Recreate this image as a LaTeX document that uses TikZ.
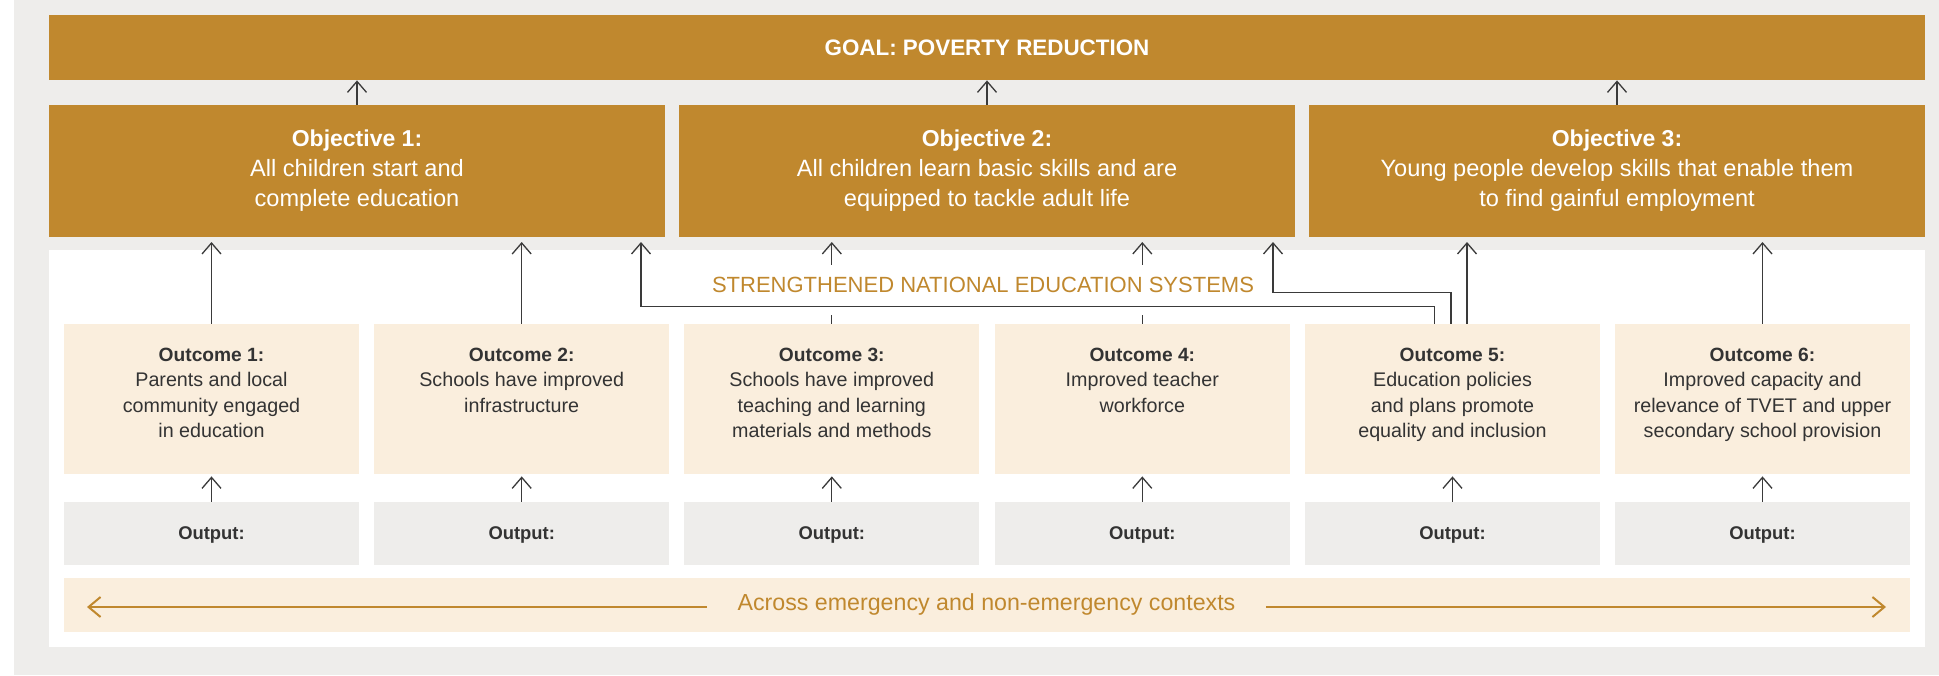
\documentclass[tikz,border=0pt]{standalone}
\usepackage{fontspec}
\setmainfont{Liberation Sans}
\usetikzlibrary{arrows.meta}
\definecolor{gold}{HTML}{C0882E}
\definecolor{bggray}{HTML}{EEEDEB}
\definecolor{outfill}{HTML}{FAEEDD}
\definecolor{darktext}{HTML}{333333}
\definecolor{linegray}{HTML}{3A3A3A}
\newcommand{\objhead}[1]{{\fontsize{11.5}{15}\selectfont\bfseries #1}}
\newcommand{\outhead}[1]{{\fontsize{9.6}{12.75}\selectfont\bfseries #1}}
\tikzset{
 goalbox/.style={fill=gold, text=white, font=\fontsize{11.2}{13}\selectfont\bfseries, minimum width=938pt, minimum height=32.5pt, inner sep=0pt, text depth=0pt},
 objbox/.style={fill=gold, minimum width=308pt, minimum height=66pt, inner sep=0pt},
 objtext/.style={anchor=north, yshift=-12.5pt, inner sep=0pt, text=white, align=center, font=\fontsize{11.8}{15}\selectfont},
 outcomebox/.style={fill=outfill, minimum width=147.5pt, minimum height=75pt, inner sep=0pt},
 outcometext/.style={anchor=north, yshift=-11.85pt, inner sep=0pt, text=darktext, align=center, font=\fontsize{9.85}{12.75}\selectfont},
 outputbox/.style={fill=bggray, minimum width=147.5pt, minimum height=31.5pt, inner sep=0pt, text depth=0pt, text=darktext, font=\fontsize{9.2}{11}\selectfont\bfseries},
 arr/.style={draw=linegray, line width=0.65pt, -{Straight Barb[length=5.5pt,width=9.5pt]}},
 goldarr/.style={draw=gold, line width=1pt, -{Straight Barb[length=6pt,width=10pt]}},
 systext/.style={text=gold, fill=white, anchor=base, inner xsep=3pt, inner ysep=0pt, text height=13.65pt, text depth=11.35pt, font=\fontsize{11}{13}\selectfont},
 acrosstextstyle/.style={text=gold, inner sep=0pt, anchor=base, font=\fontsize{11.6}{14}\selectfont},
}
\begin{document}
\begin{tikzpicture}[x=0.5pt,y=-0.5pt]
\useasboundingbox (0,0) rectangle (1939,675);
\fill[bggray] (14,0) rectangle (1939,675);
\fill[white] (49,250) rectangle (1925,647);

% goal and objectives
\node[goalbox] (goal) at (987,47.5) {GOAL: POVERTY REDUCTION};
\node[objbox, label={[objtext]north:{\objhead{Objective 1:}\\All children start and\\complete education}}] (obj1) at (357,171) {};
\node[objbox, label={[objtext]north:{\objhead{Objective 2:}\\All children learn basic skills and are\\equipped to tackle adult life}}] (obj2) at (987,171) {};
\node[objbox, label={[objtext]north:{\objhead{Objective 3:}\\Young people develop skills that enable them\\to find gainful employment}}] (obj3) at (1617,171) {};

% outcomes
\node[outcomebox, label={[outcometext]north:{\outhead{Outcome 1:}\\Parents and local\\community engaged\\in education}}] (out1) at (211.5,399) {};
\node[outcomebox, label={[outcometext]north:{\outhead{Outcome 2:}\\Schools have improved\\infrastructure}}] (out2) at (521.7,399) {};
\node[outcomebox, label={[outcometext]north:{\outhead{Outcome 3:}\\Schools have improved\\teaching and learning\\materials and methods}}] (out3) at (831.8,399) {};
\node[outcomebox, label={[outcometext]north:{\outhead{Outcome 4:}\\Improved teacher\\workforce}}] (out4) at (1142.3,399) {};
\node[outcomebox, label={[outcometext]north:{\outhead{Outcome 5:}\\Education policies\\and plans promote\\equality and inclusion}}] (out5) at (1452.5,399) {};
\node[outcomebox, label={[outcometext]north:{\outhead{Outcome 6:}\\Improved capacity and\\relevance of TVET and upper\\secondary school provision}}] (out6) at (1762.5,399) {};

% outputs
\node[outputbox] (op1) at (211.5,533.5) {Output:};
\node[outputbox] (op2) at (521.7,533.5) {Output:};
\node[outputbox] (op3) at (831.8,533.5) {Output:};
\node[outputbox] (op4) at (1142.3,533.5) {Output:};
\node[outputbox] (op5) at (1452.5,533.5) {Output:};
\node[outputbox] (op6) at (1762.5,533.5) {Output:};

% across contexts
\node[fill=outfill, minimum width=923pt, minimum height=27pt, inner sep=0pt] (across) at (987,605) {};
\node[acrosstextstyle] (acrosstext) at (986.5,610) {Across emergency and non-emergency contexts};
\coordinate (aL) at (87,607);
\coordinate (aR) at (1886,607);
\draw[goldarr] ([xshift=-15pt]acrosstext.west |- aL) -- (aL);
\draw[goldarr] ([xshift=15pt]acrosstext.east |- aR) -- (aR);

% objective -> goal
\draw[arr] (obj1.north) -- (obj1.north |- goal.south);
\draw[arr] (obj2.north) -- (obj2.north |- goal.south);
\draw[arr] (obj3.north) -- (obj3.north |- goal.south);

% output -> outcome
\foreach \i in {1,...,6}{
  \draw[arr, shorten >=1pt] (op\i.north) -- (out\i.south);
}

% outcome -> objective
\draw[arr, shorten >=2.3pt] (out1.north) -- (out1.north |- obj1.south);
\draw[arr, shorten >=2.3pt] (out2.north) -- (out2.north |- obj1.south);
\draw[arr, shorten >=2.3pt] (out3.north) -- (out3.north |- obj2.south);
\draw[arr, shorten >=2.3pt] (out4.north) -- (out4.north |- obj2.south);
\draw[arr, shorten >=2.3pt] ([xshift=7.25pt]out5.north) -- ([xshift=7.25pt]out5.north |- obj3.south);
\draw[arr, shorten >=2.3pt] (out6.north) -- (out6.north |- obj3.south);

% strengthened systems label
\node[systext] (nes) at (983,292.3) {STRENGTHENED NATIONAL EDUCATION SYSTEMS};

% outcome 5 -> objectives 1 and 2 (elbows)
\coordinate (b1) at (641,306.7);
\coordinate (b2) at (1273,292.3);
\draw[arr, shorten >=2.3pt] ([xshift=-9pt]out5.north) |- (b1) -- (b1 |- obj1.south);
\draw[arr, shorten >=2.3pt] ([xshift=-0.75pt]out5.north) |- (b2) -- (b2 |- obj2.south);
\end{tikzpicture}
\end{document}
